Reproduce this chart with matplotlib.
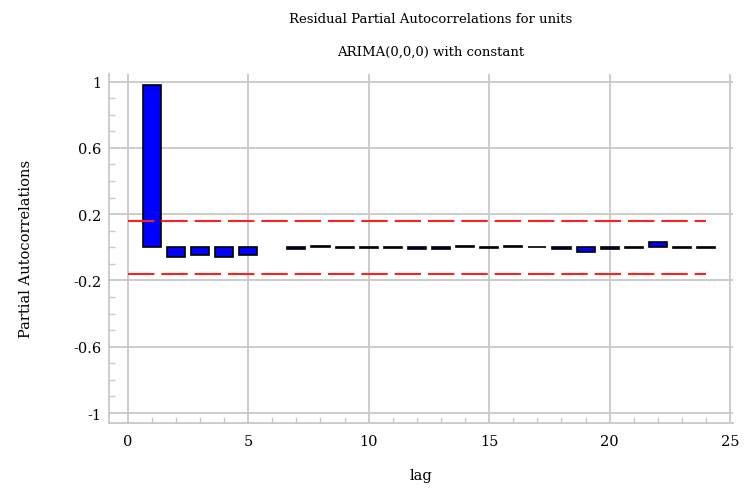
import numpy as np
import matplotlib
matplotlib.use("Agg")
import matplotlib.pyplot as plt
from matplotlib.ticker import MultipleLocator

plt.rcParams["font.family"] = ["DejaVu Serif"]
plt.rcParams["lines.scale_dashes"] = False

# Residual partial autocorrelations by lag
lags = list(range(1, 25))
pacf = [0.98, -0.057, -0.045, -0.057, -0.045, np.nan, -0.01, 0.01,
        -0.003, -0.003, -0.003, -0.01, -0.01, 0.01, -0.003, 0.01,
        0.002, -0.01, -0.028, -0.01, -0.004, 0.03, -0.003, -0.003]
conf_limit = 0.161
conf_lags = [0, 24]

title_lines = ["Residual Partial Autocorrelations for units",
               "ARIMA(0,0,0) with constant"]
xlabel = "lag"
ylabel = "Partial Autocorrelations"
xticks = [0, 5, 10, 15, 20, 25]
yticks = [-1, -0.6, -0.2, 0.2, 0.6, 1]
ytick_labels = ["-1", "-0.6", "-0.2", "0.2", "0.6", "1"]

grid_col = "#c8c8c8"

fig = plt.figure(figsize=(7.44, 4.89), dpi=100)
ax = fig.add_axes([0.147, 0.133, 0.838, 0.714])

ax.set_xlim(-0.76, 25.11)
ax.set_ylim(-1.06, 1.047)

ax.set_xticks(xticks)
ax.set_yticks(yticks)
ax.set_yticklabels(ytick_labels)
ax.xaxis.set_minor_locator(MultipleLocator(1))
ax.yaxis.set_minor_locator(MultipleLocator(0.1))
ax.tick_params(which="major", length=0, labelsize=10.5, colors="black")
ax.tick_params(axis="y", which="major", pad=5.5)
ax.tick_params(axis="x", which="major", pad=8)
ax.tick_params(which="minor", direction="in", length=4, width=1, color=grid_col)
ax.grid(True, which="major", color=grid_col, linewidth=1.3)
ax.set_axisbelow(True)

for side in ("top", "right"):
    ax.spines[side].set_visible(False)
for side in ("left", "bottom"):
    ax.spines[side].set_color(grid_col)
    ax.spines[side].set_linewidth(1.3)

ax.bar(lags, pacf, width=0.75, color="#0000ff", edgecolor="black",
       linewidth=1.2, zorder=3)

ax.plot(conf_lags, [conf_limit, conf_limit], color="#ff2020", linewidth=1.5,
        dashes=(19, 5), zorder=4)
ax.plot(conf_lags, [-conf_limit, -conf_limit], color="#ff2020", linewidth=1.5,
        dashes=(19, 5), zorder=4)

ax.set_xlabel(xlabel, fontsize=10.5, labelpad=14)
ax.set_ylabel(ylabel, fontsize=10.5, labelpad=29)

fig.text(0.579, 0.961, title_lines[0], ha="center", va="center", fontsize=9.5)
fig.text(0.579, 0.894, title_lines[1], ha="center", va="center", fontsize=9.5)

fig.savefig("out.png", dpi=100)
